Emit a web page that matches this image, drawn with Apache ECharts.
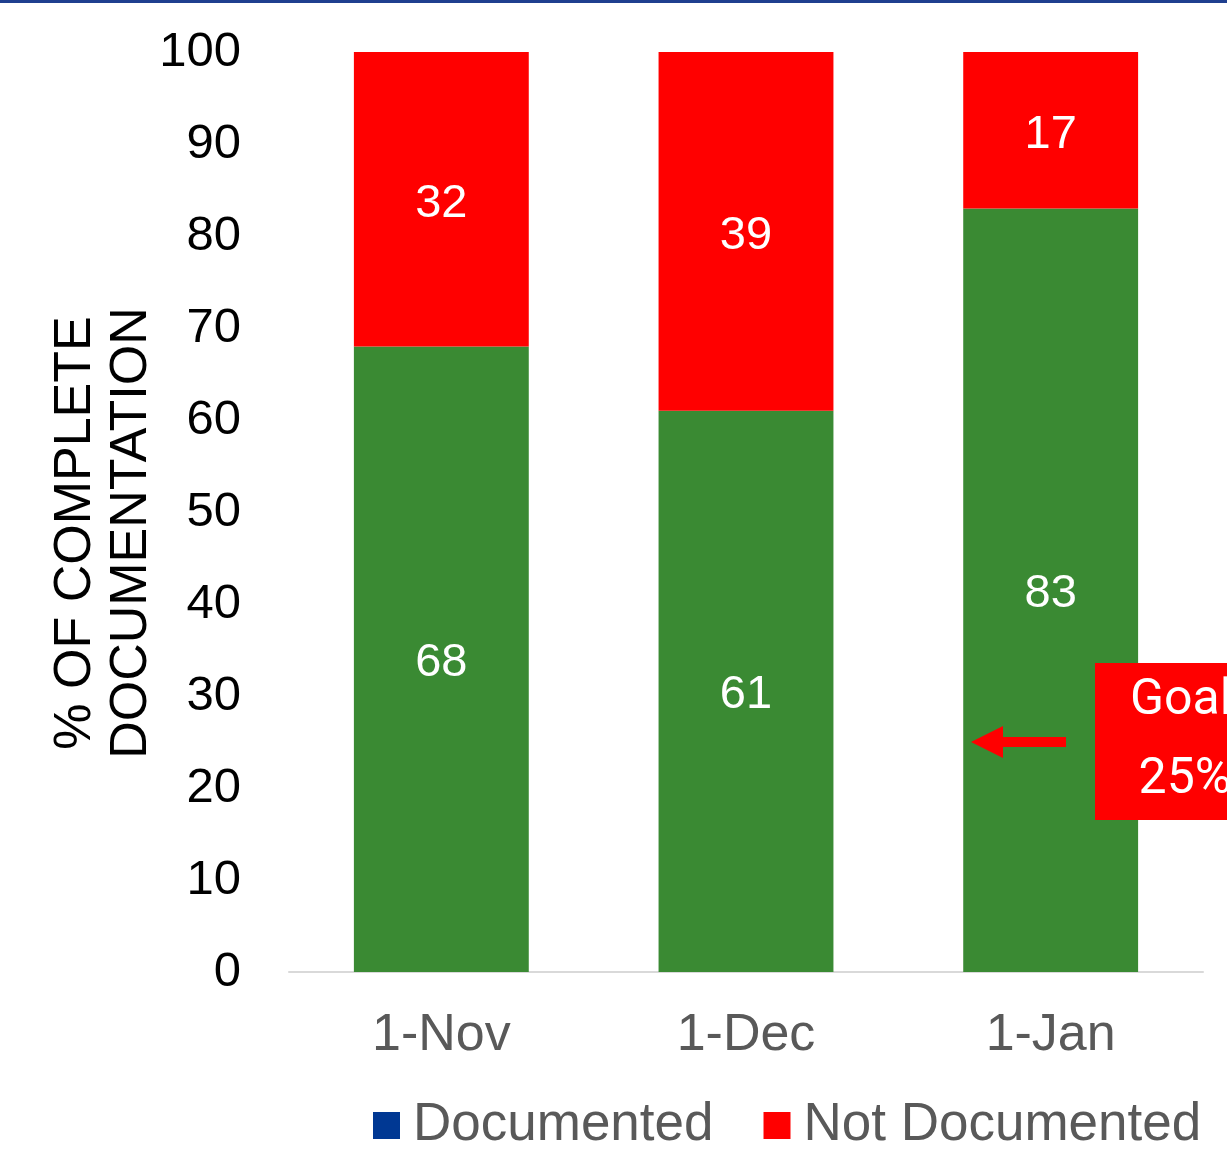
<!DOCTYPE html>
<html>
<head>
<meta charset="utf-8">
<script src="https://cdn.jsdelivr.net/npm/echarts@6/dist/echarts.min.js"></script>
<style>
html, body { margin: 0; padding: 0; background: #fff; }
#chartBar { width: 1227px; height: 1149px; }
</style>
</head>
<body>
<div id="chartBar"></div>
<script>
// data
var categories = ['1-Nov', '1-Dec', '1-Jan'];
var documented = [68, 61, 83];
var notDocumented = [32, 39, 17];
var yTicks = [0, 10, 20, 30, 40, 50, 60, 70, 80, 90, 100];
var goalValue = 25;
var goalLines = ['Goal', '25%'];

var GREEN = '#3A8A33';
var RED = '#FF0000';
var FONT = 'Liberation Sans, Arial, sans-serif';

var myChart = echarts.init(document.getElementById('chartBar'));
var option = {
    backgroundColor: '#fff',
    animation: false,
    textStyle: { fontFamily: FONT },
    grid: {
        left: 289,
        right: 24,
        top: 52,
        bottom: 177,
        containLabel: false
    },
    legend: {
        data: ['Documented', 'Not Documented'],
        left: 368,
        top: 1094,
        itemWidth: 27,
        itemHeight: 27,
        itemGap: 50,
        icon: 'rect',
        textStyle: { color: '#595959', fontSize: 53, fontFamily: FONT, padding: [0, 0, 0, 8] }
    },
    xAxis: [{
        type: 'category',
        data: categories,
        axisLine: { show: true, lineStyle: { color: '#D9D9D9', width: 2 } },
        axisTick: { show: false },
        axisLabel: { color: '#595959', fontSize: 52, margin: 38 },
        splitLine: { show: false }
    }],
    yAxis: [{
        type: 'value',
        min: yTicks[0],
        max: yTicks[yTicks.length - 1],
        interval: 10,
        name: '% OF COMPLETE\nDOCUMENTATION',
        nameLocation: 'middle',
        nameGap: 129,
        nameMoveOverlap: false,
        nameTextStyle: { color: '#000', fontSize: 52, lineHeight: 56, padding: [0, 42, 0, 0] },
        axisLine: { show: false },
        axisTick: { show: false },
        splitLine: { show: false },
        axisLabel: { color: '#000', fontSize: 49, margin: 48 }
    }],
    series: [{
        name: 'Documented',
        type: 'bar',
        stack: 'total',
        barWidth: '57.4%',
        itemStyle: { color: '#003893' },
        label: { show: true, position: 'inside', color: '#fff', fontSize: 47, offset: [0, 4] },
        data: documented.map(function (v) { return { value: v, itemStyle: { color: GREEN } }; })
    }, {
        name: 'Not Documented',
        type: 'bar',
        stack: 'total',
        barWidth: '57.4%',
        itemStyle: { color: RED },
        label: { show: true, position: 'inside', color: '#fff', fontSize: 47, offset: [0, 5] },
        data: notDocumented
    }]
};
myChart.setOption(option);

// goal annotation, placed at the goal value on the y axis
var gy = myChart.convertToPixel({ yAxisIndex: 0 }, goalValue);
myChart.setOption({
    graphic: [{
        type: 'rect', z: 100,
        left: 0, top: 0,
        shape: { width: 1227, height: 3 },
        style: { fill: '#1F3F8F' }
    }, {
        type: 'rect', z: 100,
        shape: { x: 1003, y: gy - 5, width: 63, height: 10 },
        style: { fill: RED }
    }, {
        type: 'polygon', z: 100,
        shape: { points: [[971, gy], [1003, gy - 16], [1003, gy + 16]] },
        style: { fill: RED }
    }, {
        type: 'rect', z: 100,
        shape: { x: 1095, y: gy - 79, width: 180, height: 157 },
        style: { fill: RED }
    }, {
        type: 'text', z: 101,
        x: 1181, y: gy - 41,
        style: { text: goalLines[0], fill: '#fff', font: '50px Roboto', align: 'center', verticalAlign: 'middle' }
    }, {
        type: 'text', z: 101,
        x: 1185, y: gy + 38,
        style: { text: goalLines[1], fill: '#fff', font: '50px Roboto', align: 'center', verticalAlign: 'middle' }
    }]
});
</script>
</body>
</html>
